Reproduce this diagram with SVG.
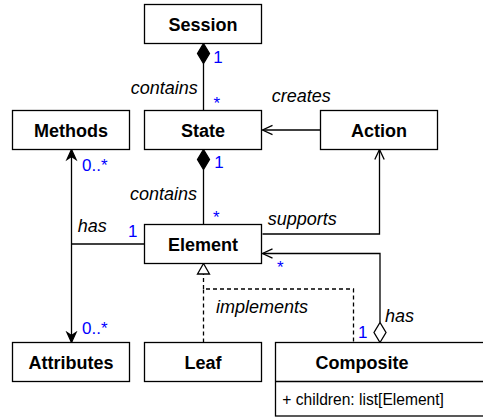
<svg xmlns="http://www.w3.org/2000/svg" width="483" height="418" viewBox="0 0 483 418">
<style>
.box{fill:#fff;stroke:#000;stroke-width:1.3}
.t{font-family:"Liberation Sans",Arial,sans-serif;font-weight:bold;font-size:18px;text-anchor:middle;fill:#000}
.lbl{font-family:"Liberation Sans",Arial,sans-serif;font-style:italic;font-size:18px;fill:#000}
.m{font-family:"Liberation Sans",Arial,sans-serif;font-size:17px;fill:#0000ff}
.attr{font-family:"Liberation Sans",Arial,sans-serif;font-size:15.6px;fill:#000}
.e{fill:none;stroke:#000;stroke-width:1.3}
.d{fill:none;stroke:#000;stroke-width:1.3;stroke-dasharray:4 3}
</style>
<defs>
<marker id="open" markerUnits="userSpaceOnUse" viewBox="-12 -7 14 14" refX="0" refY="0" markerWidth="14" markerHeight="14" orient="auto">
<path d="M-10,-4.7 L0,0 L-10,4.7" fill="none" stroke="#000" stroke-width="1.3"/>
</marker>
<marker id="block" markerUnits="userSpaceOnUse" viewBox="-12 -7 14 14" refX="0" refY="0" markerWidth="14" markerHeight="14" orient="auto">
<path d="M-10,-4.5 L0,0 L-10,4.5 L-7,0 Z" fill="#000" stroke="#000" stroke-width="1.3"/>
</marker>
</defs>
<g id="connectors">
<line class="e" x1="203.5" y1="63.5" x2="203.5" y2="110.5"/>
<polygon points="203.5,43.5 209.5,53.5 203.5,63.5 197.5,53.5" fill="#000" stroke="#000" stroke-width="1.3"/>
<line class="e" x1="203.5" y1="169.5" x2="203.5" y2="224.5"/>
<polygon points="203.5,149.5 209.5,159.5 203.5,169.5 197.5,159.5" fill="#000" stroke="#000" stroke-width="1.3"/>
<line class="e" x1="320.5" y1="130" x2="262.5" y2="130" marker-end="url(#open)"/>
<path class="e" d="M262.5,234 H379.5 V149.5" marker-end="url(#open)"/>
<path class="e" d="M380,322.5 V253.5 H262.5" marker-end="url(#open)"/>
<polygon points="380,342.5 386,332.5 380,322.5 374,332.5" fill="#fff" stroke="#000" stroke-width="1.3"/>
<line class="e" x1="144.5" y1="244" x2="71.5" y2="244"/>
<line class="e" x1="71.5" y1="244" x2="71.5" y2="149.5" marker-end="url(#block)"/>
<line class="e" x1="71.5" y1="244" x2="71.5" y2="342.5" marker-end="url(#block)"/>
<path class="d" d="M203.5,342.5 V289 H353.5 V342.5"/>
<line class="d" x1="203.5" y1="289" x2="203.5" y2="274"/>
<polygon points="203.5,263.5 209.5,274 197.5,274" fill="#fff" stroke="#000" stroke-width="1.3"/>
<text class="lbl" x="130.7" y="94">contains</text>
<text class="m" x="213.3" y="62.5">1</text>
<text class="m" x="213.5" y="109">*</text>
<text class="lbl" x="130" y="200">contains</text>
<text class="m" x="214.3" y="167.5">1</text>
<text class="m" x="213" y="223">*</text>
<text class="lbl" x="271.7" y="101.7">creates</text>
<text class="lbl" x="267.7" y="225">supports</text>
<text class="m" x="277" y="273">*</text>
<text class="lbl" x="385" y="321.7">has</text>
<text class="m" x="358" y="337.5">1</text>
<text class="lbl" x="216" y="313.3">implements</text>
<text class="lbl" x="77.7" y="232.3">has</text>
<text class="m" x="128" y="237">1</text>
<text class="m" x="82" y="170.5">0..*</text>
<text class="m" x="82" y="333.5">0..*</text>
</g>
<g id="session"><rect class="box" x="144.5" y="4.5" width="117" height="39"/><text class="t" x="203" y="30.5">Session</text></g>
<g id="methods"><rect class="box" x="12.5" y="110.5" width="117" height="39"/><text class="t" x="71" y="136.5">Methods</text></g>
<g id="state"><rect class="box" x="144.5" y="110.5" width="117" height="39"/><text class="t" x="203" y="136.5">State</text></g>
<g id="action"><rect class="box" x="320.5" y="110.5" width="117" height="39"/><text class="t" x="379" y="136.5">Action</text></g>
<g id="element"><rect class="box" x="144.5" y="224.5" width="117" height="39"/><text class="t" x="203" y="250.5">Element</text></g>
<g id="attributes"><rect class="box" x="12.5" y="342.5" width="117" height="39"/><text class="t" x="71" y="368.5">Attributes</text></g>
<g id="leaf"><rect class="box" x="144.5" y="342.5" width="117" height="39"/><text class="t" x="203" y="368.5">Leaf</text></g>
<g id="composite"><rect class="box" x="275.5" y="342.5" width="234" height="73.5"/><line class="e" x1="275.5" y1="381.5" x2="509.5" y2="381.5"/><text class="t" x="362" y="368.5">Composite</text><text class="attr" x="282.3" y="405">+ children: list[Element]</text></g>
</svg>
